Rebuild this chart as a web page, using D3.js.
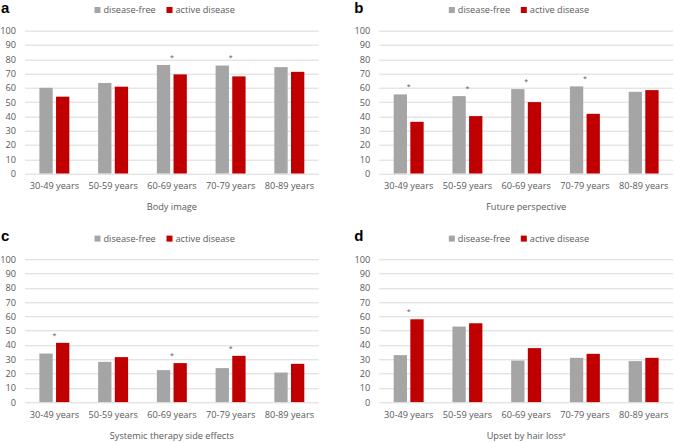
<!DOCTYPE html>
<html>
<head>
<meta charset="utf-8">
<script src="https://cdn.jsdelivr.net/npm/d3@7"></script>
<style>
  body { margin: 0; background: #fff; }
  svg { display: block; }
  text { font-family: 'Open Sans', sans-serif; }
</style>
</head>
<body>
<svg id="chart" width="674" height="442"></svg>
<script>
// categories and series
let ageGroups = ['30-49 years', '50-59 years', '60-69 years', '70-79 years', '80-89 years']
let seriesNames = ['disease-free', 'active disease']
let yTicks = d3.range(0, 101, 10)

let bodyFree = [60, 63.4, 76, 75.6, 74.5]
let bodyActive = [53.8, 60.8, 69.4, 68, 71.2]
let bodySig = [false, false, true, true, false]

let futureFree = [55.4, 54.2, 59.1, 61, 57.2]
let futureActive = [36.2, 40.2, 50, 41.8, 58.4]
let futureSig = [true, true, true, true, false]

let therapyFree = [34, 28.2, 22.4, 23.8, 20.7]
let therapyActive = [41.5, 31.5, 27.3, 32.4, 26.8]
let therapySig = [true, false, true, true, false]

let hairFree = [32.9, 52.9, 29.1, 31, 28.7]
let hairActive = [58, 55.2, 37.8, 33.8, 31]
let hairSig = [true, false, false, false, false]

let colors = ['#a5a5a5', '#c00000']

let panels = [
  {letter: 'a', title: 'Body image', sup: '', free: bodyFree, active: bodyActive, sig: bodySig, left: 25, top: 30.7},
  {letter: 'b', title: 'Future perspective', sup: '', free: futureFree, active: futureActive, sig: futureSig, left: 379.3, top: 30.7},
  {letter: 'c', title: 'Systemic therapy side effects', sup: '', free: therapyFree, active: therapyActive, sig: therapySig, left: 25, top: 259.3},
  {letter: 'd', title: 'Upset by hair loss', sup: 'a', free: hairFree, active: hairActive, sig: hairSig, left: 379.3, top: 259.3},
]

let svg = d3.select('#chart')
let plotW = 293.7
let plotH = 142.8
let fs = 9.2
let textGray = '#595959'

panels.forEach(p => {
  let g = svg.append('g').attr('transform', `translate(${p.left},${p.top})`)

  let x = d3.scaleBand().domain(ageGroups).range([0, plotW])
            .paddingInner(0.49).paddingOuter(0.245)
  let xs = d3.scaleBand().domain([0, 1]).range([0, x.bandwidth()]).paddingInner(0.2)
  let y = d3.scaleLinear().domain([0, 100]).range([plotH, 0])

  // gridlines
  g.selectAll('.grid').data(yTicks).enter().append('line')
    .attr('class', 'grid')
    .attr('x1', 0).attr('x2', plotW)
    .attr('y1', d => Math.round(y(d)) + 0.5).attr('y2', d => Math.round(y(d)) + 0.5)
    .attr('stroke', '#d9d9d9').attr('stroke-width', 1)

  // y axis labels
  let yAxis = d3.axisLeft(y).tickValues(yTicks).tickSize(0).tickPadding(9)
  let ya = g.append('g').call(yAxis)
  ya.select('.domain').remove()
  ya.selectAll('text').attr('font-size', fs).attr('fill', textGray)
    .style('font-family', "'Open Sans', sans-serif")

  // x axis labels
  let xAxis = d3.axisBottom(x).tickSize(0).tickPadding(9)
  let xa = g.append('g').attr('transform', `translate(0,${plotH})`).call(xAxis)
  xa.select('.domain').remove()
  xa.selectAll('text').attr('font-size', fs).attr('fill', textGray)
    .style('font-family', "'Open Sans', sans-serif")

  // bars
  let rows = ageGroups.map((c, i) => ({cat: c, vals: [p.free[i], p.active[i]], sig: p.sig[i]}))
  let grp = g.selectAll('.grp').data(rows).enter().append('g')
    .attr('class', 'grp')
    .attr('transform', d => `translate(${x(d.cat)},0)`)
  grp.selectAll('rect').data(d => d.vals).enter().append('rect')
    .attr('x', (d, i) => xs(i))
    .attr('width', xs.bandwidth())
    .attr('y', d => y(d))
    .attr('height', d => plotH - y(d))
    .attr('fill', (d, i) => colors[i])

  // significance asterisks
  grp.filter(d => d.sig).append('text')
    .attr('x', x.bandwidth() / 2)
    .attr('y', d => y(d3.max(d.vals)) - 5.2)
    .attr('text-anchor', 'middle')
    .attr('font-size', 7)
    .attr('fill', '#595959')
    .text('*')

  // legend
  let lg = g.append('g').attr('transform', `translate(69.5,${-20.7})`)
  seriesNames.forEach((s, i) => {
    let lx = i * 72
    lg.append('rect').attr('x', lx).attr('y', -3).attr('width', 6).attr('height', 6).attr('fill', colors[i])
    lg.append('text').attr('x', lx + 9).attr('y', 3.3)
      .attr('font-size', fs).attr('fill', textGray).text(s)
  })

  // axis title
  let t = g.append('text')
    .attr('x', plotW / 2).attr('y', plotH + 37)
    .attr('text-anchor', 'middle')
    .attr('font-size', fs).attr('fill', textGray)
    .text(p.title)
  if (p.sup) {
    t.append('tspan').attr('font-size', 5.5).attr('dy', -3.5).text(p.sup)
  }

  // panel letter
  g.append('text')
    .attr('x', p.letter == 'a' || p.letter == 'c' ? -24 : -25)
    .attr('y', -18)
    .attr('font-size', 15).attr('font-weight', 'bold')
    .style('font-family', "'Liberation Sans', Arial, sans-serif")
    .attr('fill', '#000')
    .text(p.letter)
})
</script>
</body>
</html>
